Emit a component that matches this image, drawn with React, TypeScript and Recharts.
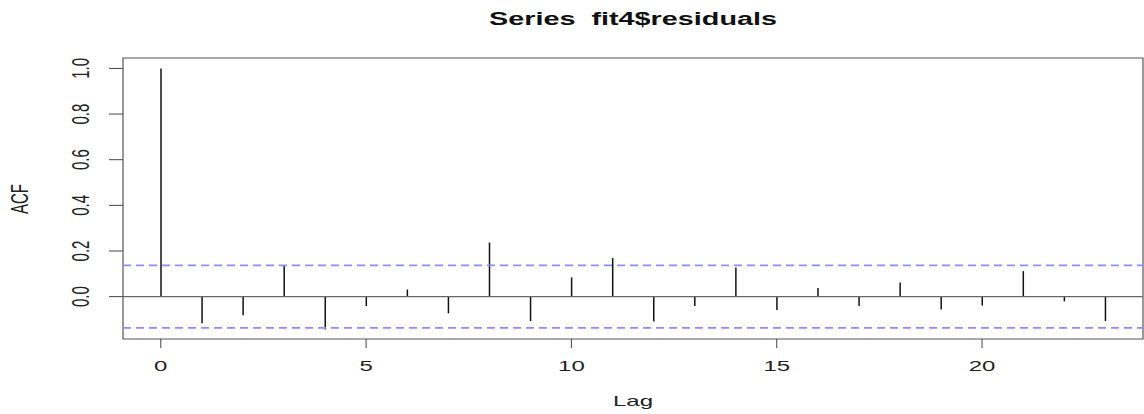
import {
  Bar,
  ComposedChart,
  ReferenceArea,
  ReferenceLine,
  XAxis,
  YAxis,
} from "recharts";

const lags = [0, 1, 2, 3, 4, 5, 6, 7, 8, 9, 10, 11, 12, 13, 14, 15, 16, 17, 18, 19, 20, 21, 22, 23];
const acfValues = [
  1.0, -0.117, -0.082, 0.135, -0.144, -0.041, 0.031, -0.073, 0.237, -0.107, 0.084, 0.169,
  -0.109, -0.041, 0.128, -0.059, 0.038, -0.041, 0.062, -0.056, -0.039, 0.112, -0.021, -0.107,
];
const ciBound = 0.137;
const xTicks = [0, 5, 10, 15, 20];
const yTicks = [0, 0.2, 0.4, 0.6, 0.8, 1.0];
const xDomain: [number, number] = [-0.92, 23.92];
const yDomain: [number, number] = [-0.1856, 1.0456];

const data = lags.map((lag, i) => ({ lag, acf: acfValues[i] }));

// R's picture is stretched sideways, so the text gets stretched too
const STRETCH = 1.6;
const FONT = "'Liberation Sans', Arial, sans-serif";
const TEXT = "#222";

function XTick({ x, y, payload }: any) {
  return (
    <text
      transform={`translate(${x},${y + 21}) scale(${STRETCH},1)`}
      textAnchor="middle"
      fontFamily={FONT}
      fontSize={15}
      fill={TEXT}
    >
      {payload.value}
    </text>
  );
}

function YTick({ x, y, payload }: any) {
  return (
    <text
      transform={`translate(${x - 18},${y}) scale(${STRETCH},1) rotate(-90)`}
      textAnchor="middle"
      fontFamily={FONT}
      fontSize={15}
      fill={TEXT}
    >
      {Number(payload.value).toFixed(1)}
    </text>
  );
}

export default function App() {
  return (
    <div style={{ position: "absolute", left: 0, top: 0, width: 1144, height: 414, background: "#fff" }}>
      <ComposedChart
        width={1144}
        height={414}
        data={data}
        margin={{ top: 58, right: 1, bottom: 0, left: 0 }}
      >
        <XAxis
          dataKey="lag"
          type="number"
          domain={xDomain}
          ticks={xTicks}
          allowDataOverflow
          axisLine={false}
          tickSize={9}
          tickMargin={2}
          tickLine={{ stroke: "#444" }}
          height={75}
          tick={<XTick />}
        />
        <YAxis
          type="number"
          domain={yDomain}
          ticks={yTicks}
          allowDataOverflow
          axisLine={false}
          tickSize={14}
          tickMargin={2}
          tickLine={{ stroke: "#444" }}
          width={123}
          tick={<YTick />}
        />
        <ReferenceLine y={0} stroke="#666" strokeWidth={1.2} />
        <ReferenceLine y={ciBound} stroke="#8c8cff" strokeWidth={1.6} strokeDasharray="8 5" />
        <ReferenceLine y={-ciBound} stroke="#8c8cff" strokeWidth={1.6} strokeDasharray="8 5" />
        <Bar dataKey="acf" fill="#111" barSize={1.5} isAnimationActive={false} />
        <ReferenceArea
          x1={xDomain[0]}
          x2={xDomain[1]}
          y1={yDomain[0]}
          y2={yDomain[1]}
          fill="none"
          stroke="#555"
          strokeWidth={1.2}
        />
      </ComposedChart>
      <svg
        width={1144}
        height={414}
        style={{ position: "absolute", left: 0, top: 0, pointerEvents: "none" }}
      >
        <text
          transform={`translate(633,25) scale(${STRETCH},1)`}
          textAnchor="middle"
          fontFamily={FONT}
          fontWeight="bold"
          fontSize={18}
          fill="#111"
          style={{ whiteSpace: "pre" }}
        >
          {"Series  fit4$residuals"}
        </text>
        <text
          transform={`translate(633,406) scale(${STRETCH},1)`}
          textAnchor="middle"
          fontFamily={FONT}
          fontSize={15}
          fill={TEXT}
        >
          Lag
        </text>
        <text
          transform={`translate(28,199) scale(${STRETCH},1) rotate(-90)`}
          textAnchor="middle"
          fontFamily={FONT}
          fontSize={15}
          fill={TEXT}
        >
          ACF
        </text>
      </svg>
    </div>
  );
}
